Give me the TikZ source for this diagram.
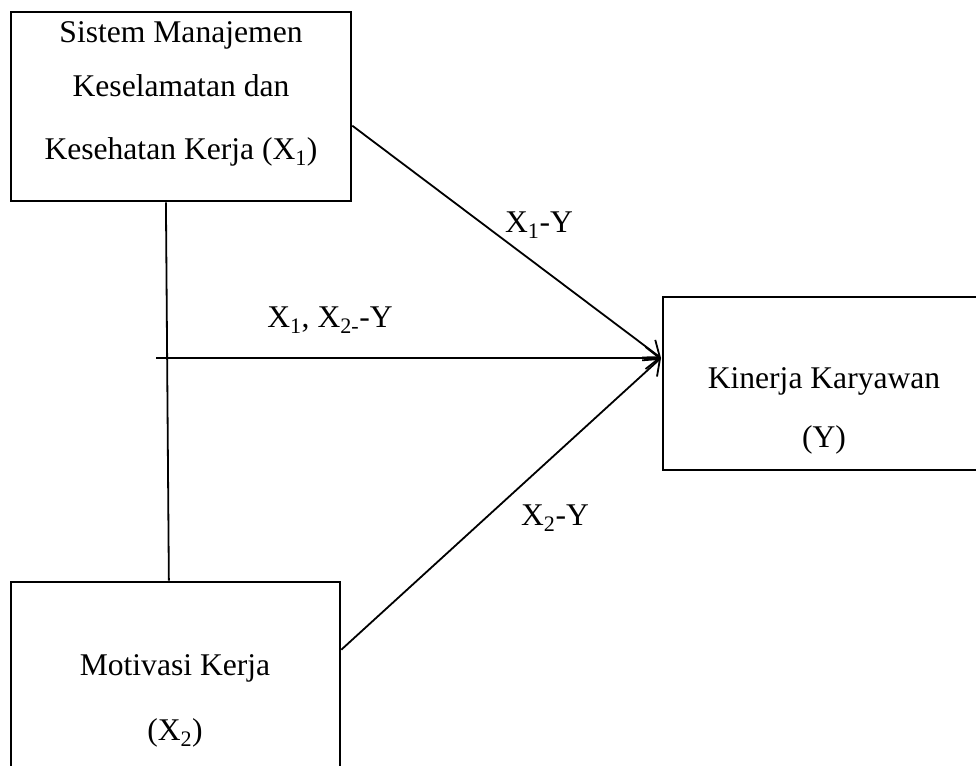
\documentclass[tikz,border=0pt]{standalone}
\usepackage{fontspec}
\setmainfont{Liberation Serif}
\usetikzlibrary{arrows.meta,calc}
\begin{document}
\begin{tikzpicture}[x=1pt,y=-1pt,
  box/.style={draw,line width=2.6pt,rectangle,inner sep=0pt},
  txt/.style={anchor=base,inner sep=0pt,font=\fontsize{31.6}{38}\selectfont},
  link/.style={line width=1.8pt},
  arr/.style={line width=1.8pt,-{Straight Barb[length=14pt,width=22pt,line width=1.8pt]}}]
\clip (0,0) rectangle (976,765);
% boxes
\node[box,minimum width=340pt,minimum height=189pt] (b1) at (181,106.5) {};
\node[box,minimum width=323pt,minimum height=173pt] (b2) at (824.5,383.5) {};
\node[box,minimum width=329pt,minimum height=220pt] (b3) at (175.5,692) {};
% texts
\node[txt] (t1a) at (181,43) {Sistem Manajemen};
\node[txt] (t1b) at (181,97) {Keselamatan dan};
\node[txt] (t1c) at (181,159) {Kesehatan Kerja (X\textsubscript{1})};
\node[txt] (t2a) at (824,388) {Kinerja Karyawan};
\node[txt] (t2b) at (824,447) {(Y)};
\node[txt] (t3a) at (175,675) {Motivasi Kerja};
\node[txt] (t3b) at (175,740) {(X\textsubscript{2})};
% edge labels
\node[txt] (l1) at (539,232) {X\textsubscript{1}-Y};
\node[txt] (l2) at (330,327) {X\textsubscript{1}, X\textsubscript{2-}-Y};
\node[txt] (l3) at (555,525) {X\textsubscript{2}-Y};
% connector points
\coordinate (tip) at (661,358);
\coordinate (hstart) at (156,358);
\coordinate (s1) at ($(b1.north east)+(0,115)$);
\coordinate (s3) at ($(b3.north west -| b3.east)+(0,69)$);
\coordinate (v1) at ($(b1.south west)!0.456!(b1.south east)$);
\coordinate (v3) at ($(b3.north west)!0.48!(b3.north east)$);
% connectors
\draw[link] (v1) -- (v3);
\draw[arr] (s1) -- (tip);
\draw[arr] (hstart) -- (tip);
\draw[arr] (s3) -- (tip);
\end{tikzpicture}
\end{document}
